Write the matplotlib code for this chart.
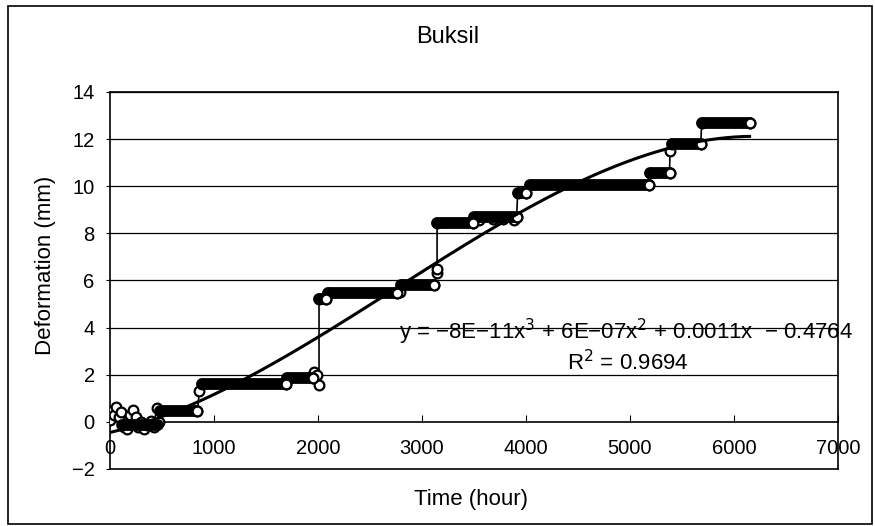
import matplotlib
matplotlib.use("Agg")
import matplotlib.pyplot as plt
import numpy as np

plt.rcParams["font.family"] = ["Liberation Sans", "DejaVu Sans"]

# scattered readings over the first few hundred hours
early_x = [0, 20, 40, 60, 90, 110, 130, 160, 190, 220, 250, 270, 300, 330,
           360, 390, 420, 450, 470]
early_y = [0.1, 0.45, 0.3, 0.65, 0.2, 0.4, -0.2, -0.3, 0.3, 0.5, 0.2, -0.2,
           0.0, -0.3, -0.15, 0.05, -0.2, 0.6, 0.0]

# plateaus of the record (start hour, end hour, level in mm)
step_start = [120, 480, 880, 1700, 2010, 2100, 2800, 3145, 3500, 3920, 4040,
              5190, 5400, 5690]
step_end = [460, 840, 1690, 1950, 2080, 2760, 3120, 3490, 3910, 4000, 5180,
            5380, 5680, 6155]
step_level = [-0.15, 0.45, 1.6, 1.85, 5.2, 5.45, 5.8, 8.45, 8.7, 9.7, 10.05,
              10.55, 11.8, 12.7]

# the series as drawn, in time order
path_x = early_x + [480, 840, 860, 880, 1690, 1700, 1950, 1965, 1995, 2010,
                    2010, 2080, 2100, 2760, 2790, 2800, 3120, 3140, 3145, 3145,
                    3490, 3500, 3550, 3680, 3780, 3880, 3910, 3920, 4000, 4040,
                    5180, 5190, 5380, 5385, 5400, 5680, 5690, 6155]
path_y = early_y + [0.45, 0.45, 1.3, 1.6, 1.6, 1.85, 1.85, 2.1, 2.0, 1.55,
                    5.2, 5.2, 5.45, 5.45, 5.5, 5.8, 5.8, 6.3, 6.5, 8.45,
                    8.45, 8.7, 8.55, 8.6, 8.6, 8.55, 8.7, 9.7, 9.7, 10.05,
                    10.05, 10.55, 10.55, 11.5, 11.8, 11.8, 12.7, 12.7]

# points
trend_x = [0, 1250, 1635, 1827, 2817, 3625, 4230, 4712, 4875, 5355, 5700, 6150]
trend_y = [-0.45, 1.7, 2.64, 3.15, 5.9, 8.0, 9.6, 10.6, 10.85, 11.57, 12.0, 12.08]

x_ticks = [0, 1000, 2000, 3000, 4000, 5000, 6000, 7000]
y_ticks = [-2, 0, 2, 4, 6, 8, 10, 12, 14]

fig = plt.figure(figsize=(8.75, 5.26), dpi=100)
ax = fig.add_axes([0.1257, 0.1084, 0.832, 0.7167])

for y in y_ticks[2:]:
    ax.axhline(y, color="black", lw=0.9, zorder=1)
ax.axhline(-2, color="black", lw=1.2, zorder=1, clip_on=False)

ax.plot(path_x, path_y, color="black", lw=1.2, zorder=2)
ax.plot(path_x, path_y, "o", ms=7, mfc="white", mec="black", mew=1.6,
        zorder=3)
for s, e, lv in zip(step_start, step_end, step_level):
    ax.plot([s, e], [lv, lv], color="black", lw=8.5,
            solid_capstyle="round", zorder=4)
ax.plot(step_end[1:], step_level[1:], "o", ms=7, mfc="white", mec="black",
        mew=1.6, zorder=5)

coef = np.polyfit(trend_x, trend_y, 3)
tx = np.linspace(0, 6150, 300)
ax.plot(tx, np.polyval(coef, tx), color="black", lw=2.2, zorder=6)

ax.set_xlim(0, 7000)
ax.set_ylim(-2, 14)
ax.set_xticks(x_ticks)
ax.set_yticks(y_ticks)
ax.spines["bottom"].set_position(("data", 0))
for sp in ax.spines.values():
    sp.set_color("black")
    sp.set_linewidth(1.2)
ax.tick_params(axis="x", direction="in", length=5, pad=12, labelsize=14.5)
ax.tick_params(axis="y", direction="out", length=3, pad=8, labelsize=14.5)

ax.text(0.709, 0.363, "y = \u22128E\u221211x$^3$ + 6E\u221207x$^2$ + 0.0011x  \u2212 0.4764",
        transform=ax.transAxes, ha="center", va="center", fontsize=16,
        zorder=7, clip_on=False)
ax.text(0.711, 0.283, "R$^2$ = 0.9694", transform=ax.transAxes,
        ha="center", va="center", fontsize=16, zorder=7)

fig.text(0.512, 0.93, "Buksil", ha="center", va="center", fontsize=17)
fig.text(0.052, 0.495, "Deformation (mm)", rotation=90, ha="center",
         va="center", fontsize=16)
fig.text(0.538, 0.05, "Time (hour)", ha="center", va="center", fontsize=16)

fig.patches.append(plt.Rectangle((0.009, 0.004), 0.988, 0.984,
                                 transform=fig.transFigure, fill=False,
                                 edgecolor="black", lw=1.2))

fig.savefig("out.png", dpi=100)
